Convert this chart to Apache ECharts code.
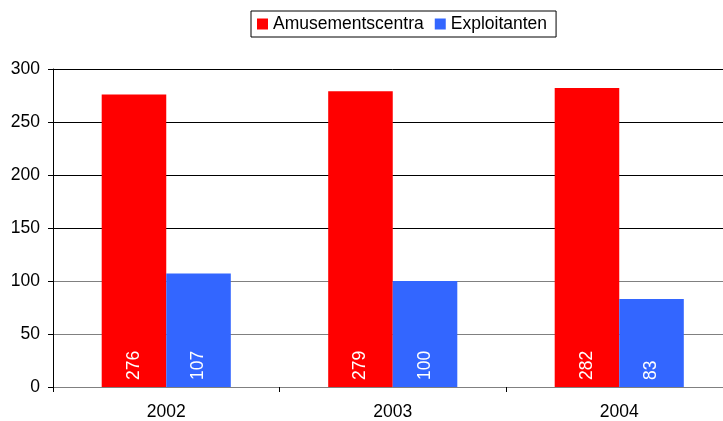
<!DOCTYPE html>
<html>
<head>
<meta charset="utf-8">
<script src="https://cdn.jsdelivr.net/npm/echarts@6/dist/echarts.min.js"></script>
<style>
  html, body { margin: 0; padding: 0; background: #fff; overflow: hidden; }
  /* plot area runs slightly past the right edge of the window, as in the original */
  #chart { width: 733px; height: 421px; }
</style>
</head>
<body>
<div id="chart"></div>
<script>
const years = ['2002', '2003', '2004'];
const amusementscentra = [276, 279, 282];
const exploitanten = [107, 100, 83];
const yTicks = [0, 50, 100, 150, 200, 250, 300];

const FONT = 'Liberation Sans, Arial, sans-serif';
const chart = echarts.init(document.getElementById('chart'));

const barLabel = {
  show: true,
  position: 'insideBottom',
  rotate: 90,
  align: 'left',
  verticalAlign: 'middle',
  distance: 7,
  color: '#fff',
  fontSize: 17.5,
  fontFamily: FONT
};

chart.setOption({
  animation: false,
  textStyle: { fontFamily: FONT },
  legend: {
    top: 11,
    left: 251,
    padding: [4, 9, 4, 6],
    borderColor: '#000',
    borderWidth: 1,
    itemWidth: 11,
    itemHeight: 11,
    itemGap: 11,
    icon: 'rect',
    textStyle: { fontSize: 17.5, color: '#000' },
    data: ['Amusementscentra', 'Exploitanten']
  },
  grid: {
    left: 53,
    right: 0.5,
    top: 69,
    bottom: 34,
    containLabel: false
  },
  xAxis: {
    type: 'category',
    data: years,
    axisLine: { lineStyle: { color: '#808080', width: 1 } },
    axisTick: { show: true, length: 5, lineStyle: { color: '#000' } },
    axisLabel: { color: '#000', fontSize: 17.5, margin: 16 }
  },
  yAxis: {
    type: 'value',
    min: yTicks[0],
    max: yTicks[yTicks.length - 1],
    interval: 50,
    axisLine: { show: true, lineStyle: { color: '#000' } },
    axisTick: { show: true, length: 5, lineStyle: { color: '#000' } },
    axisLabel: { color: '#000', fontSize: 17.5, margin: 13 },
    splitLine: {
      lineStyle: {
        color: ['#808080', '#808080', '#808080', '#000', '#000', '#000', '#000']
      }
    }
  },
  series: [
    {
      name: 'Amusementscentra',
      type: 'bar',
      data: amusementscentra,
      barGap: '0%',
      barCategoryGap: '43%',
      itemStyle: { color: '#ff0000' },
      label: barLabel
    },
    {
      name: 'Exploitanten',
      type: 'bar',
      data: exploitanten,
      itemStyle: { color: '#3366ff' },
      label: barLabel
    }
  ]
});
</script>
</body>
</html>
